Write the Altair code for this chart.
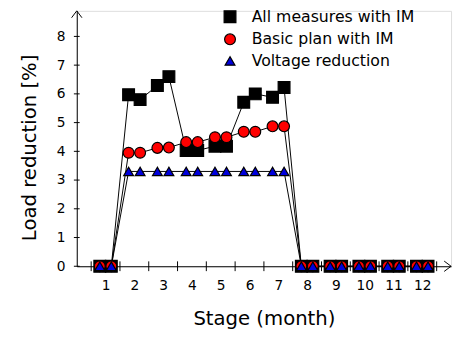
import altair as alt
import pandas as pd

stages = list(range(1, 13))
series_names = ["All measures with IM", "Basic plan with IM", "Voltage reduction"]
# two values per stage (first and second half)
all_measures = [0, 0, 5.97, 5.80, 6.29, 6.60, 4.03, 4.03, 4.18, 4.18, 5.71, 6.00, 5.88, 6.22,
                0, 0, 0, 0, 0, 0, 0, 0, 0, 0]
basic_plan = [0, 0, 3.95, 3.95, 4.12, 4.13, 4.32, 4.32, 4.49, 4.49, 4.68, 4.68, 4.87, 4.87,
              0, 0, 0, 0, 0, 0, 0, 0, 0, 0]
voltage = [0, 0, 3.3, 3.3, 3.3, 3.3, 3.3, 3.3, 3.3, 3.3, 3.3, 3.3, 3.3, 3.3,
           0, 0, 0, 0, 0, 0, 0, 0, 0, 0]
x_ticks = [0.5 + i for i in range(13)]
y_ticks = list(range(0, 9))

xpos = []
for s in stages:
    xpos += [s - 0.2, s + 0.2]

rows = []
for k, (name, vals) in enumerate(zip(series_names, [all_measures, basic_plan, voltage])):
    for i, (x, v) in enumerate(zip(xpos, vals)):
        rows.append({"series": name, "x": x, "y": v, "k": k, "i": i})
df = pd.DataFrame(rows)

XMAX, YMAX = 13, 8.89
xs = alt.Scale(domain=[0, XMAX], nice=False, zero=False)
ys = alt.Scale(domain=[0, YMAX], nice=False, zero=False)
FONT = "DejaVu Sans"

x_axis = alt.Axis(values=stages, ticks=False, grid=False, domain=True, domainColor="black",
                  labelOverlap=False, labelFlush=False, labelBound=False,
                  labelFontSize=14, labelPadding=13, labelColor="black", labelFont=FONT,
                  title="Stage (month)", titleFontSize=20, titleFont=FONT, titleFontWeight="normal",
                  titleColor="black", titleY=59, titleBaseline="alphabetic")
y_axis = alt.Axis(values=y_ticks, ticks=False, grid=False, domain=True, domainColor="black",
                  labelOverlap=False, labelFlush=False, labelBound=False,
                  labelFontSize=14, labelPadding=12, labelColor="black", labelFont=FONT,
                  title="Load reduction [%]", titleFontSize=20, titleFont=FONT, titleFontWeight="normal",
                  titleColor="black", titleX=-48, titleY=139, titleBaseline="middle", titleAngle=270)


def X(field):
    return alt.X(field, type="quantitative", scale=xs, axis=x_axis)


def Y(field):
    return alt.Y(field, type="quantitative", scale=ys, axis=y_axis)


base = alt.Chart(df)

lines = base.mark_line(color="black", strokeWidth=1).encode(
    x=X("x"), y=Y("y"), detail="series:N", order="i:Q",
)

points = base.mark_point(filled=True, opacity=1, stroke="black", strokeWidth=1.2).encode(
    x=X("x"),
    y=Y("y"),
    color=alt.Color("series:N", sort=series_names,
                    scale=alt.Scale(domain=series_names, range=["black", "red", "#0000dd"]),
                    legend=alt.Legend(title=None, orient="none", legendX=148, legendY=-2,
                                      labelFontSize=16, labelFont=FONT, labelColor="black",
                                      labelOffset=14, rowPadding=6, padding=0, labelLimit=0,
                                      symbolStrokeColor="black", symbolStrokeWidth=1.2,
                                      symbolOpacity=1)),
    shape=alt.Shape("series:N", sort=series_names,
                    scale=alt.Scale(domain=series_names, range=["square", "circle", "triangle-up"])),
    size=alt.Size("series:N", sort=series_names,
                  scale=alt.Scale(domain=series_names, range=[144, 100, 64])),
    order="k:Q",
)

xt = pd.DataFrame({"x": x_ticks})
xtick_rules = alt.Chart(xt).mark_rule(color="black", strokeWidth=1).encode(
    x=X("x"), y=Y("lo"), y2="hi:Q",
).transform_calculate(lo="-0.17", hi="0.17")

yt = pd.DataFrame({"y": y_ticks})
ytick_rules = alt.Chart(yt).mark_rule(color="black", strokeWidth=1).encode(
    y=Y("y"), x=X("lo"), x2="hi:Q",
).transform_calculate(lo="-0.1", hi="0.1")

arrows = pd.DataFrame({"x": [XMAX], "y": [0]})
arrow_r = alt.Chart(arrows).mark_point(shape="M -1 -0.75 L 0 0 L -1 0.75", filled=False,
                                       stroke="black", strokeWidth=1, size=196, opacity=1).encode(
    x=X("x"), y=Y("y"))
arrows_t = pd.DataFrame({"x": [0], "y": [YMAX]})
arrow_t = alt.Chart(arrows_t).mark_point(shape="M -0.75 1 L 0 0 L 0.75 1", filled=False,
                                         stroke="black", strokeWidth=1, size=196, opacity=1).encode(
    x=X("x"), y=Y("y"))

chart = alt.layer(lines, xtick_rules, ytick_rules, arrow_r, arrow_t, points).properties(
    width=381, height=260,
    autosize=alt.AutoSizeParams(type="none"),
    padding={"left": 70, "top": 0, "right": 3, "bottom": 62},
).configure_view(stroke=None).configure(background="white")

chart.save("out.html", embed_options={"renderer": "svg", "actions": False})
